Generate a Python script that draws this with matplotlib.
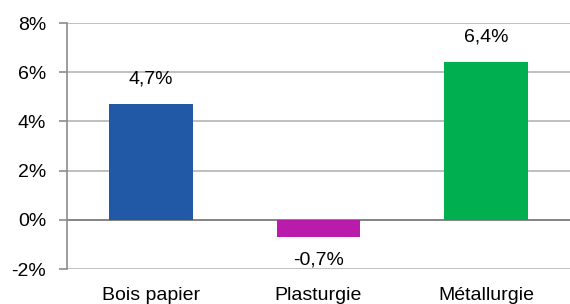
import matplotlib.pyplot as plt
from matplotlib.ticker import FuncFormatter

categories = ["Bois papier", "Plasturgie", "Métallurgie"]
values = [4.7, -0.7, 6.4]
colors = ["#2159A6", "#B91BAB", "#00AF50"]
yticks = [-2, 0, 2, 4, 6, 8]

plt.rcParams["font.family"] = ["Liberation Sans", "DejaVu Sans"]
FS = 14

fig = plt.figure(figsize=(5.7, 3.04), dpi=100)
ax = fig.add_axes([67 / 570, 1 - 269 / 304, 503 / 570, 246 / 304])

x = range(len(categories))
ax.bar(x, values, width=0.5, color=colors, zorder=3)

for i, v in enumerate(values):
    off = 25 if v >= 0 else -23
    ax.annotate(f"{v:.1f}%".replace(".", ","), (i, v), xytext=(0, off),
                textcoords="offset pixels", ha="center", va="center", fontsize=FS)

ax.set_xlim(-0.5, 2.5)
ax.set_ylim(-2, 8)
ax.set_yticks(yticks)
ax.yaxis.set_major_formatter(FuncFormatter(lambda v, _: f"{v:.0f}%"))
ax.grid(axis="y", color="#B4B4B4", lw=1.2, zorder=0)
ax.axhline(0, color="#808080", lw=1.3, zorder=2)

for s in ["top", "right", "bottom"]:
    ax.spines[s].set_visible(False)
ax.spines["left"].set_color("#8C8C8C")
ax.spines["left"].set_linewidth(1.2)

ax.set_xticks(list(x))
ax.set_xticklabels(categories)
ax.tick_params(axis="x", length=0, pad=13, labelsize=FS)
ax.tick_params(axis="y", length=6, color="#8C8C8C", width=1.2, pad=9, labelsize=FS)

fig.savefig("out.png", dpi=100)
